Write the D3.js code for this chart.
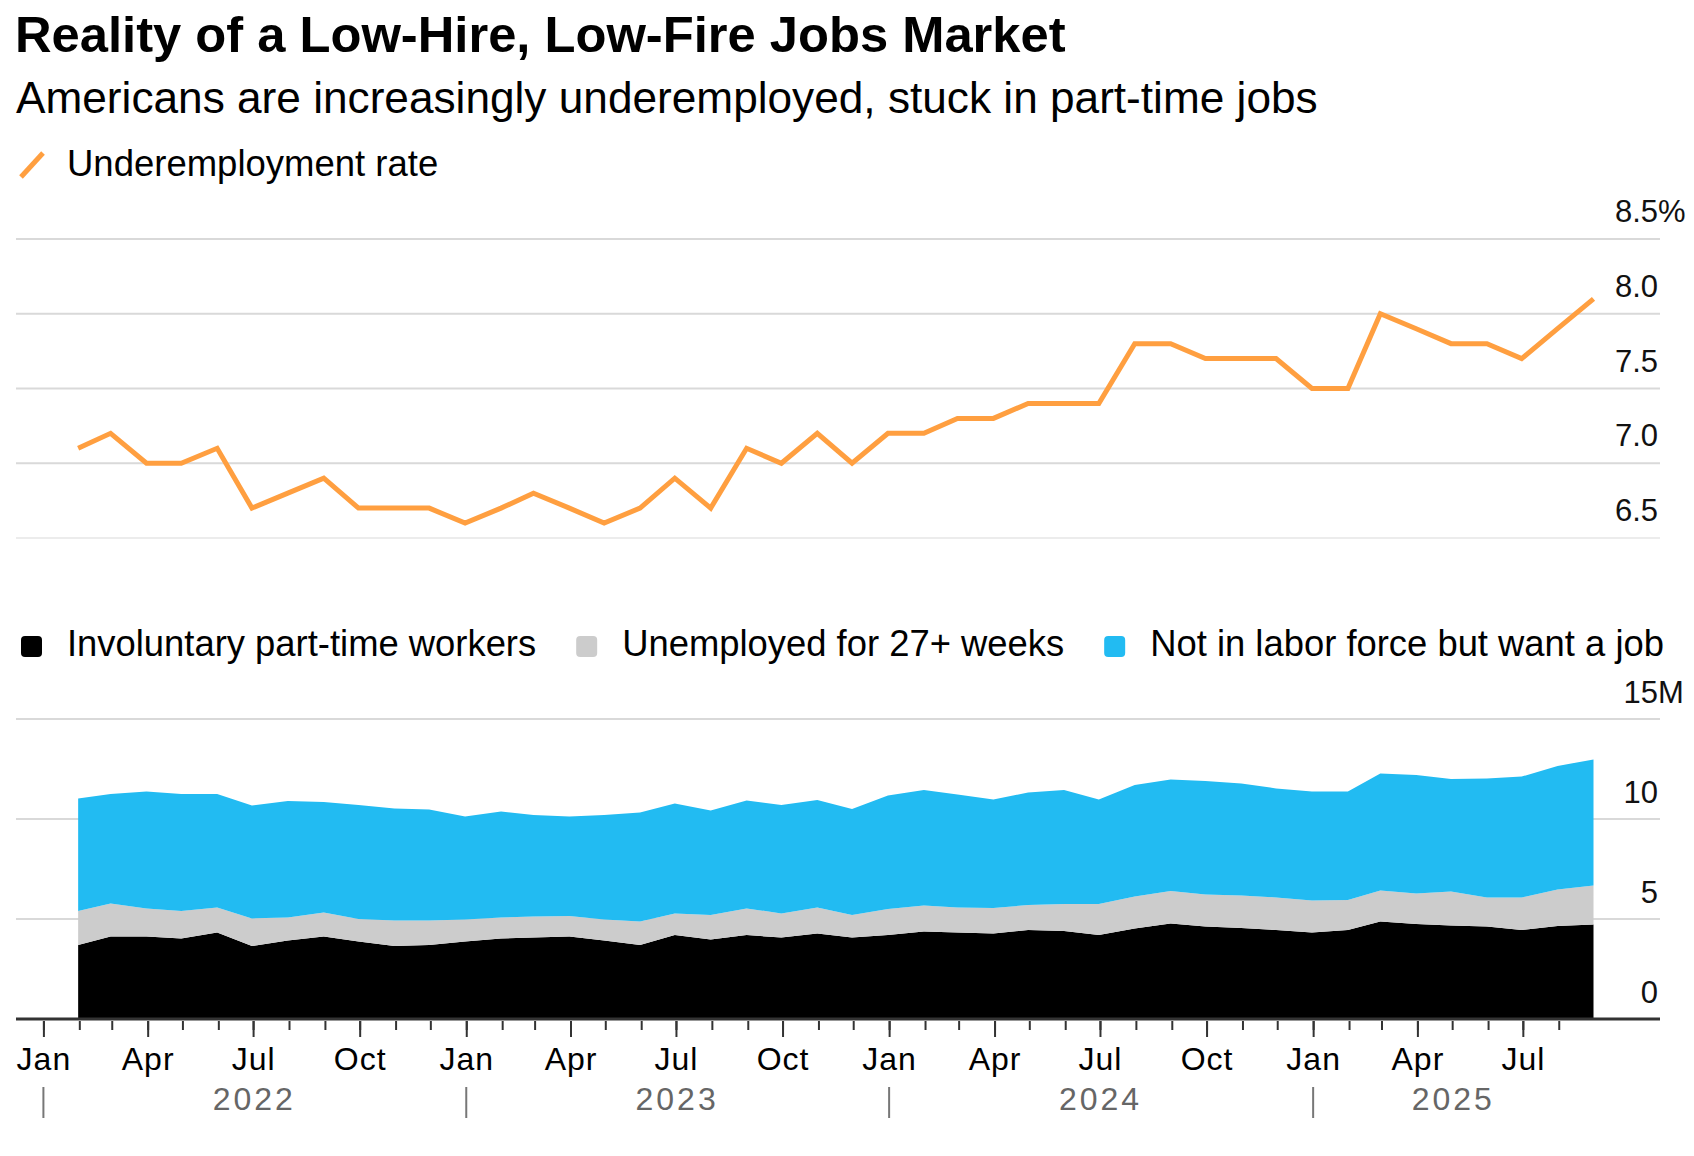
<!DOCTYPE html>
<style>
    body {
        margin: 0;
        background: #fff;
        font-family: 'Liberation Sans', Arial, sans-serif;
    }
</style>
<svg width="1694" height="1156"></svg>
<script src="https://d3js.org/d3.v7.min.js"></script>
<script>
    // monthly data, Jan 2022 - Aug 2025 (plotted at month end)
    var months = [
        "2022-01", "2022-02", "2022-03", "2022-04", "2022-05", "2022-06", "2022-07", "2022-08", "2022-09", "2022-10", "2022-11", "2022-12",
        "2023-01", "2023-02", "2023-03", "2023-04", "2023-05", "2023-06", "2023-07", "2023-08", "2023-09", "2023-10", "2023-11", "2023-12",
        "2024-01", "2024-02", "2024-03", "2024-04", "2024-05", "2024-06", "2024-07", "2024-08", "2024-09", "2024-10", "2024-11", "2024-12",
        "2025-01", "2025-02", "2025-03", "2025-04", "2025-05", "2025-06", "2025-07", "2025-08"
    ];

    // underemployment rate, %
    var underemployment = [
        7.1, 7.2, 7.0, 7.0, 7.1, 6.7, 6.8, 6.9, 6.7, 6.7, 6.7, 6.6,
        6.7, 6.8, 6.7, 6.6, 6.7, 6.9, 6.7, 7.1, 7.0, 7.2, 7.0, 7.2,
        7.2, 7.3, 7.3, 7.4, 7.4, 7.4, 7.8, 7.8, 7.7, 7.7, 7.7, 7.5,
        7.5, 8.0, 7.9, 7.8, 7.8, 7.7, 7.9, 8.1
    ];

    // millions of people
    var involuntary = [
        3.70, 4.12, 4.12, 4.03, 4.32, 3.65, 3.92, 4.12, 3.87, 3.65, 3.70, 3.87,
        4.03, 4.07, 4.12, 3.92, 3.70, 4.20, 3.98, 4.20, 4.07, 4.28, 4.07, 4.20,
        4.37, 4.33, 4.28, 4.45, 4.40, 4.20, 4.53, 4.78, 4.62, 4.55, 4.45, 4.32,
        4.45, 4.87, 4.75, 4.67, 4.62, 4.45, 4.65, 4.73
    ];
    var longTerm = [
        1.70, 1.66, 1.41, 1.37, 1.25, 1.38, 1.16, 1.20, 1.13, 1.27, 1.22, 1.11,
        1.05, 1.05, 1.03, 1.06, 1.17, 1.08, 1.22, 1.33, 1.21, 1.30, 1.13, 1.30,
        1.30, 1.25, 1.27, 1.25, 1.35, 1.55, 1.59, 1.62, 1.61, 1.62, 1.63, 1.60,
        1.50, 1.55, 1.53, 1.70, 1.46, 1.63, 1.83, 1.94
    ];
    var wantJob = [
        5.63, 5.47, 5.84, 5.85, 5.68, 5.64, 5.82, 5.53, 5.70, 5.61, 5.56, 5.14,
        5.30, 5.08, 4.97, 5.22, 5.45, 5.50, 5.22, 5.39, 5.42, 5.37, 5.30, 5.67,
        5.78, 5.65, 5.43, 5.62, 5.70, 5.23, 5.58, 5.58, 5.67, 5.61, 5.45, 5.45,
        5.42, 5.86, 5.92, 5.63, 5.95, 6.04, 6.17, 6.31
    ];

    var seriesNames = ["Involuntary part-time workers", "Unemployed for 27+ weeks", "Not in labor force but want a job"];
    var seriesColors = ["#000000", "#cccccc", "#22bbf2"];
    var rateTicks = [6.5, 7.0, 7.5, 8.0, 8.5];
    var countTicks = [0, 5, 10, 15];
    var years = [2022, 2023, 2024, 2025];

    var svg = d3.select("svg");
    var parse = d3.timeParse("%Y-%m");
    var left = 16, right = 1660, labelX = 1658;

    // points sit at the last day of each month
    var data = months.map(function (m, i) {
        var d = d3.timeDay.offset(d3.timeMonth.offset(parse(m), 1), -1);
        return {date: d, rate: underemployment[i], inv: involuntary[i], lt: longTerm[i], nilf: wantJob[i]};
    });
    var lastDate = data[data.length - 1].date;

    var x = d3.scaleTime()
        .domain([new Date(2022, 0, 1), lastDate])
        .range([43.4, 1593.5]);

    var yTop = d3.scaleLinear().domain([6.5, 8.5]).range([538, 239]);
    var yBot = d3.scaleLinear().domain([0, 15]).range([1019, 719]);

    // header
    svg.append("text")
        .attr("x", 15).attr("y", 52)
        .attr("font-size", 50.7).attr("font-weight", "bold")
        .text("Reality of a Low-Hire, Low-Fire Jobs Market");

    svg.append("text")
        .attr("x", 16).attr("y", 113)
        .attr("font-size", 44.2)
        .text("Americans are increasingly underemployed, stuck in part-time jobs");

    // line legend
    svg.append("line")
        .attr("x1", 21).attr("y1", 177).attr("x2", 43).attr("y2", 153)
        .attr("stroke", "#ff9f40").attr("stroke-width", 5);
    svg.append("text")
        .attr("x", 67).attr("y", 176)
        .attr("font-size", 36.5)
        .text("Underemployment rate");

    // top chart gridlines + labels
    var gTop = svg.append("g");
    gTop.selectAll("line")
        .data(rateTicks)
        .enter().append("line")
        .attr("x1", left).attr("x2", right)
        .attr("y1", function (d) { return yTop(d); })
        .attr("y2", function (d) { return yTop(d); })
        .attr("stroke", function (d) { return d === 6.5 ? "#ececec" : "#d9d9d9"; })
        .attr("stroke-width", 2);

    gTop.selectAll("text")
        .data(rateTicks)
        .enter().append("text")
        .attr("x", labelX)
        .attr("y", function (d) { return yTop(d) - 17; })
        .attr("text-anchor", "end")
        .attr("font-size", 31)
        .attr("fill", "#111")
        .text(function (d) { return d.toFixed(1); });
    svg.append("text")
        .attr("x", labelX).attr("y", yTop(8.5) - 17)
        .attr("font-size", 31).attr("fill", "#111")
        .text("%");

    var line = d3.line()
        .x(function (d) { return x(d.date); })
        .y(function (d) { return yTop(d.rate); });

    svg.append("path")
        .datum(data)
        .attr("fill", "none")
        .attr("stroke", "#ff9f40")
        .attr("stroke-width", 5)
        .attr("stroke-linejoin", "miter")
        .attr("d", line);

    // stacked area legend
    var legend = svg.append("g").attr("font-size", 36.4);
    var lx = 21;
    seriesNames.forEach(function (name, i) {
        legend.append("rect")
            .attr("x", lx).attr("y", 636)
            .attr("width", 21).attr("height", 21).attr("rx", 4)
            .attr("fill", seriesColors[i]);
        var t = legend.append("text")
            .attr("x", lx + 46).attr("y", 656)
            .text(name);
        lx += 46 + t.node().getComputedTextLength() + 40;
    });

    // bottom chart gridlines
    var gBot = svg.append("g");
    gBot.selectAll("line")
        .data(countTicks.filter(function (d) { return d > 0; }))
        .enter().append("line")
        .attr("x1", left).attr("x2", right)
        .attr("y1", function (d) { return yBot(d); })
        .attr("y2", function (d) { return yBot(d); })
        .attr("stroke", "#d9d9d9")
        .attr("stroke-width", 2);

    var stack = d3.stack().keys(["inv", "lt", "nilf"]);
    var layers = stack(data);

    var area = d3.area()
        .x(function (d) { return x(d.data.date); })
        .y0(function (d) { return yBot(d[0]); })
        .y1(function (d) { return yBot(d[1]); });

    svg.append("g")
        .selectAll("path")
        .data(layers)
        .enter().append("path")
        .attr("fill", function (d, i) { return seriesColors[i]; })
        .attr("d", area);

    gBot.selectAll("text")
        .data(countTicks)
        .enter().append("text")
        .attr("x", labelX)
        .attr("y", function (d) { return yBot(d) - 16; })
        .attr("text-anchor", "end")
        .attr("font-size", 31)
        .attr("fill", "#111")
        .text(function (d) { return d; });
    svg.append("text")
        .attr("x", labelX).attr("y", yBot(15) - 16)
        .attr("font-size", 31).attr("fill", "#111")
        .text("M");

    // baseline
    svg.append("line")
        .attr("x1", left).attr("x2", right)
        .attr("y1", 1019).attr("y2", 1019)
        .attr("stroke", "#333").attr("stroke-width", 3);

    // x axis: monthly minor ticks, quarterly labelled ticks
    var tickDates = months.map(function (m) { return parse(m); });
    var quarterDates = tickDates.filter(function (d) { return d.getMonth() % 3 === 0; });

    var axisMinor = svg.append("g")
        .attr("transform", "translate(0,1021)")
        .call(d3.axisBottom(x).tickValues(tickDates).tickSize(9).tickFormat(""));
    var axisMajor = svg.append("g")
        .attr("transform", "translate(0,1021)")
        .call(d3.axisBottom(x).tickValues(quarterDates).tickSize(16).tickFormat(d3.timeFormat("%b")));

    [axisMinor, axisMajor].forEach(function (a) {
        a.select(".domain").remove();
        a.selectAll("line").attr("stroke", "#333").attr("stroke-width", 2);
    });
    axisMajor.selectAll("text")
        .attr("y", 49).attr("dy", 0)
        .attr("fill", "#000")
        .attr("font-family", "'Liberation Sans', Arial, sans-serif")
        .attr("font-size", 32)
        .attr("letter-spacing", 1);

    // year row
    var yearG = svg.append("g");
    years.forEach(function (yr) {
        var start = new Date(yr, 0, 1);
        var end = d3.min([new Date(yr, 11, 31), lastDate]);
        yearG.append("line")
            .attr("x1", x(start)).attr("x2", x(start))
            .attr("y1", 1087).attr("y2", 1118)
            .attr("stroke", "#777").attr("stroke-width", 2);
        yearG.append("text")
            .attr("x", (x(start) + x(end)) / 2)
            .attr("y", 1110)
            .attr("text-anchor", "middle")
            .attr("font-size", 32)
            .attr("letter-spacing", 3)
            .attr("fill", "#666")
            .text(yr);
    });
</script>
